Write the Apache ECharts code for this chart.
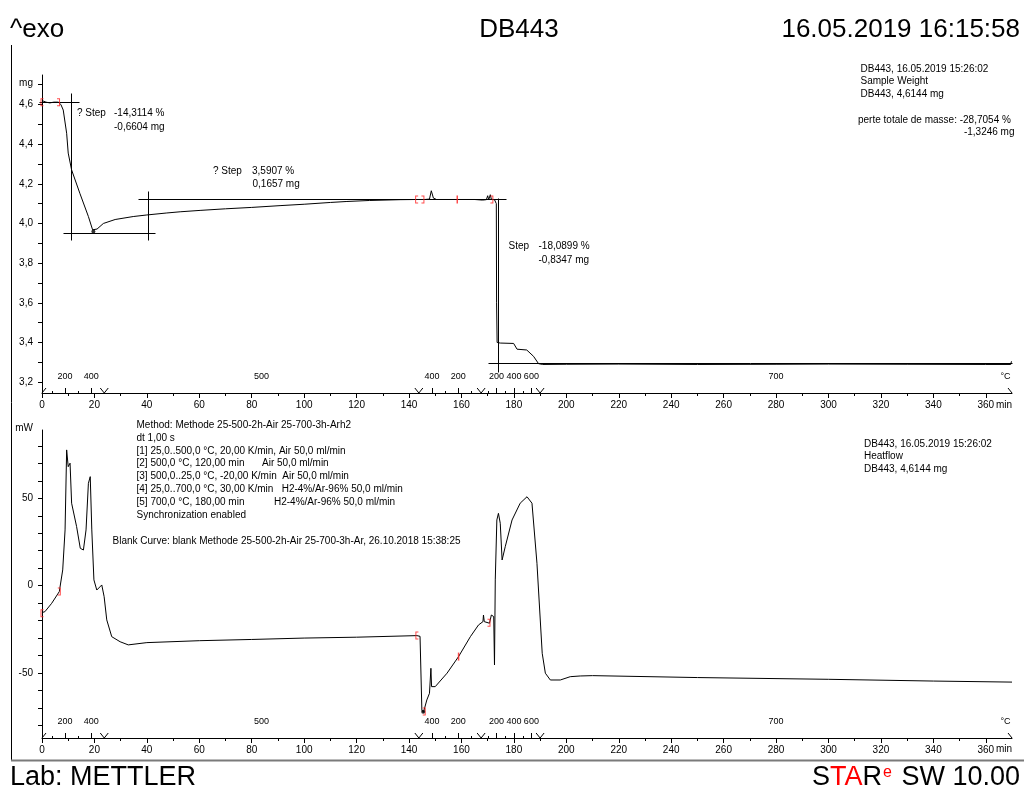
<!DOCTYPE html>
<html>
<head>
<meta charset="utf-8">
<script src="https://cdn.jsdelivr.net/npm/echarts@6/dist/echarts.min.js"></script>
<style>
  html, body { margin: 0; padding: 0; background: #fff; }
  #chart { width: 1024px; height: 789px; }
</style>
</head>
<body>
<div id="chart"></div>
<script>
// ---------------- TGA: sample mass (mg) versus time (min) ----------------
const tgaTime = [0, 0.5, 1.5, 3, 4.5, 6.2, 7.2, 8.1, 9.4, 10.0, 11.3, 14.5, 17.7, 19.3, 19.8, 21, 23.4, 27.9,
  34.8, 40, 47.6, 52.7, 60.3, 70, 80, 90.8, 100, 110, 116.3, 125, 136.6, 143, 146, 147.8, 148.5, 149.3, 150.5,
  155, 160, 165, 168, 169.5, 170.0, 170.4, 171.0, 171.4, 172.6, 173.3, 173.4, 173.6, 174.8, 179.9, 181.2,
  184.9, 187.5, 189.4, 191, 200, 220, 250, 280, 300, 330, 360, 369.5, 369.8];
const tgaMass = [4.620, 4.628, 4.612, 4.608, 4.612, 4.612, 4.600, 4.572, 4.455, 4.355, 4.270, 4.150, 4.035, 3.968,
  3.958, 3.972, 4.000, 4.020, 4.035, 4.043, 4.053, 4.059, 4.066, 4.074, 4.081, 4.090, 4.097, 4.106, 4.111,
  4.116, 4.120, 4.121, 4.121, 4.123, 4.165, 4.128, 4.121, 4.121, 4.121, 4.121, 4.118, 4.120, 4.140, 4.120,
  4.145, 4.122, 4.120, 4.100, 3.600, 3.400, 3.397, 3.395, 3.366, 3.362, 3.330, 3.293, 3.289, 3.290, 3.291,
  3.289, 3.290, 3.291, 3.290, 3.289, 3.289, 3.305];

// ---------------- DSC: heat flow (mW) versus time (min) ----------------
const hfTime = [0, 1.1, 3.7, 6.6, 7.9, 8.8, 9.4, 10.0, 10.7, 11.3, 13.2, 14.6, 15.8, 16.8, 17.7, 18.4, 19.0,
  19.8, 20.9, 22.8, 23.7, 24.7, 26.6, 29.8, 32.9, 40, 60, 80, 100, 120, 143, 144.2, 144.9, 145.5, 146.8,
  147.8, 148.2, 148.35, 148.6, 150, 154.5, 158.9, 163.4, 166.5, 168.2, 168.4, 168.7, 170.7, 171.4, 172.3,
  172.6, 172.9, 173.5, 174.1, 174.8, 175.5, 176.7, 179.3, 182.4, 185.0, 186.9, 188.8, 190.8, 192.0, 193.9,
  197.7, 201.5, 205.3, 210, 250, 300, 340, 370];
const hfPower = [-15.4, -14.9, -10.1, -3.4, 9.0, 31.9, 77.7, 68.1, 70.1, 47.2, 33.8, 21.4, 20.4, 31.9, 58.6,
  62.4, 31.9, 3.3, -2.5, 0.4, -6.3, -19.6, -29.2, -32.1, -33.9, -32.6, -31.5, -30.8, -30.0, -29.5, -28.6,
  -29.0, -71.2, -72.5, -65.4, -61.6, -61.0, -47.3, -57.8, -57.8, -50.1, -40.6, -29.2, -22.5, -20.6, -16.8,
  -20.6, -21.5, -16.8, -17.7, -45.4, 3.3, 37.6, 41.4, 35.7, 14.7, 22.3, 37.6, 47.2, 50.9, 47.2, 12.8, -38.7,
  -50.1, -54.0, -54.0, -52.1, -51.7, -51.5, -52.6, -53.6, -54.6, -55.2];

// ---------------- step evaluation construction lines: [t1, v1, t2, v2] ----------------
const stepLines = [
  [-1, 4.614, 14.1, 4.614],
  [11, 4.656, 11, 3.916],
  [8, 3.954, 43, 3.954],
  [36.8, 4.125, 177, 4.125],
  [40.5, 4.165, 40.5, 3.916],
  [173.9, 4.130, 173.9, 3.250],
  [170, 3.297, 370, 3.297]
];

// evaluation limits (red brackets) and curve markers
const limitsTga = [[0, 4.612, '['], [6.3, 4.612, ']'], [142.9, 4.121, '['], [145.3, 4.121, ']'], [158.4, 4.121, '|'], [171.6, 4.121, ']']];
const limitsHf = [[0, -15.8, '['], [6.6, -3.4, ']'], [143, -28.6, '['], [145.8, -72.0, ']'], [158.9, -40.6, '|'], [170.5, -21.3, ']']];
const dotsTga = [[19.6, 3.960]];
const dotsHf = [[145.4, -72.2]];

// ---------------- axes ----------------
const timeMax = 370;
const timeMajorTicks = [0, 20, 40, 60, 80, 100, 120, 140, 160, 180, 200, 220, 240, 260, 280, 300, 320, 340, 360];
const timeMinorTicks = [10, 30, 50, 70, 90, 110, 130, 150, 170, 190, 210, 230, 250, 270, 290, 310, 330, 350];
const massRange = [3.1451, 4.7488];
const massTicks = [3.2, 3.3, 3.4, 3.5, 3.6, 3.7, 3.8, 3.9, 4.0, 4.1, 4.2, 4.3, 4.4, 4.5, 4.6, 4.7];
const massLabels = [3.2, 3.4, 3.6, 3.8, 4.0, 4.2, 4.4, 4.6];
const powerRange = [-87.2, 89.1];
const powerTicks = [-80, -70, -60, -50, -40, -30, -20, -10, 0, 10, 20, 30, 40, 50, 60, 70, 80];
const powerLabels = [-50, 0, 50];

// temperature programme scale drawn along the time axis
const tempTickTime = [3.75, 8.75, 13.75, 18.75, 148.75, 153.75, 158.75, 163.75, 170, 173.33, 176.67, 180, 183.33, 186.67];
const tempTickMajor = [0, 1, 0, 1, 1, 0, 1, 0, 0, 1, 0, 1, 0, 1];
const tempLabelTime = [8.75, 18.75, 83.75, 148.75, 158.75, 173.33, 180, 186.67, 280, 367.5];
const tempLabelText = ['200', '400', '500', '400', '200', '200', '400', '600', '700', '°C'];
const segmentTime = [0, 23.75, 143.75, 167.5, 190, 370];

const FAMILY = '"Liberation Sans", Arial, sans-serif';
const SMALL = '10px ' + FAMILY;
const TEMP = '9px ' + FAMILY;
const BIG = '26px ' + FAMILY;
const FOOT = '27px ' + FAMILY;
const px = v => Math.round(v) + 0.5;

function commaNum(v) { return String(v).replace('.', ','); }

function xAxesFor(grid) {
  const common = { gridIndex: grid, type: 'value', min: 0, max: timeMax, position: 'bottom', splitLine: { show: false } };
  return [
    Object.assign({}, common, {
      axisLine: { show: true, onZero: false, lineStyle: { color: '#000', width: 1 } },
      axisTick: { show: true, customValues: timeMajorTicks, length: 5, lineStyle: { color: '#000' } },
      axisLabel: { show: true, customValues: timeMajorTicks, margin: 7, color: '#000', fontSize: 10, fontFamily: FAMILY }
    }),
    Object.assign({}, common, {
      axisLine: { show: false, onZero: false },
      axisTick: { show: true, customValues: timeMinorTicks, length: 3, lineStyle: { color: '#000' } },
      axisLabel: { show: false }
    })
  ];
}

function yAxisFor(grid, range, ticks, labels, fmt) {
  return {
    gridIndex: grid, type: 'value', min: range[0], max: range[1], position: 'left', splitLine: { show: false },
    axisLine: { show: true, onZero: false, lineStyle: { color: '#000', width: 1 } },
    axisTick: { show: true, customValues: ticks, length: 4, lineStyle: { color: '#000' } },
    axisLabel: { show: true, customValues: labels, margin: 9, color: '#000', fontSize: 10, fontFamily: FAMILY, formatter: fmt }
  };
}

function tempScale(xi, yi, base) {
  const line = (x1, y1, x2, y2) => ({ type: 'line', shape: { x1, y1, x2, y2 }, style: { stroke: '#000', lineWidth: 1 } });
  return [
    {
      type: 'custom', xAxisIndex: xi, yAxisIndex: yi, silent: true, clip: false,
      data: tempTickTime.map((t, i) => [t, tempTickMajor[i]]),
      renderItem(params, api) {
        const p = api.coord([api.value(0), base]);
        const len = api.value(1) ? 5 : 2;
        return line(px(p[0]), Math.round(p[1]), px(p[0]), Math.round(p[1]) - len);
      }
    },
    {
      type: 'custom', xAxisIndex: xi, yAxisIndex: yi, silent: true, clip: false,
      data: segmentTime.map((t, i) => [t, i === 0 ? 1 : (i === segmentTime.length - 1 ? -1 : 0)]),
      renderItem(params, api) {
        const p = api.coord([api.value(0), base]);
        const side = api.value(1);
        const x = p[0], y = Math.round(p[1]);
        const pts = [];
        if (side <= 0) pts.push([x - 4, y - 5]);
        pts.push([x, y]);
        if (side >= 0) pts.push([x + 4, y - 5]);
        return { type: 'polyline', shape: { points: pts }, style: { stroke: '#000', lineWidth: 1, fill: null } };
      }
    },
    {
      type: 'custom', xAxisIndex: xi, yAxisIndex: yi, silent: true, clip: false,
      data: tempLabelTime.map((t, i) => [t, i]),
      renderItem(params, api) {
        const p = api.coord([api.value(0), base]);
        return {
          type: 'text', x: p[0], y: p[1] - 16,
          style: { text: tempLabelText[api.value(1)], font: TEMP, fill: '#000', align: 'center', verticalAlign: 'middle', textAlign: 'center', textVerticalAlign: 'middle' }
        };
      }
    }
  ];
}

const bracketPaths = {
  '[': 'path://M0,0 L3,0 L3,1 L1,1 L1,7 L3,7 L3,8 L0,8 Z',
  ']': 'path://M0,0 L3,0 L3,8 L0,8 L0,7 L2,7 L2,1 L0,1 Z',
  '|': 'path://M0,0 L1,0 L1,8 L0,8 Z'
};

function limitSeries(xi, yi, list) {
  return {
    type: 'scatter', xAxisIndex: xi, yAxisIndex: yi, silent: true, z: 5,
    data: list.map(d => ({ value: [d[0], d[1]], symbol: bracketPaths[d[2]], symbolSize: d[2] === '|' ? [1.5, 8] : [3, 8] })),
    itemStyle: { color: '#ff2020' }
  };
}

function dotSeries(xi, yi, list) {
  return { type: 'scatter', xAxisIndex: xi, yAxisIndex: yi, silent: true, z: 6, data: list, symbol: 'circle', symbolSize: 4, itemStyle: { color: '#000' } };
}

function txt(x, y, text, align, font, color) {
  return {
    type: 'text', x: x, y: y, silent: true,
    style: { text: text, font: font || SMALL, fill: color || '#000', align: align || 'left', verticalAlign: 'middle', textAlign: align || 'left', textVerticalAlign: 'middle' }
  };
}

// method description: first column text, second column (gas) text and its x position
const methodLines = [
  'Method: Methode 25-500-2h-Air 25-700-3h-Arh2',
  'dt 1,00 s',
  '[1] 25,0..500,0 °C, 20,00 K/min, Air 50,0 ml/min',
  '[2] 500,0 °C, 120,00 min',
  '[3] 500,0..25,0 °C, -20,00 K/min  Air 50,0 ml/min',
  '[4] 25,0..700,0 °C, 30,00 K/min   H2-4%/Ar-96% 50,0 ml/min',
  '[5] 700,0 °C, 180,00 min',
  'Synchronization enabled'
];
const methodGas = [null, null, null, 'Air 50,0 ml/min', null, null, 'H2-4%/Ar-96% 50,0 ml/min', null];
const methodGasX = [0, 0, 0, 262, 0, 0, 274, 0];

const graphics = [
  { type: 'line', silent: true, shape: { x1: 11.5, y1: 45, x2: 11.5, y2: 760 }, style: { stroke: '#000', lineWidth: 1 } },
  { type: 'line', silent: true, shape: { x1: 11, y1: 760.5, x2: 1024, y2: 760.5 }, style: { stroke: '#7a7a7a', lineWidth: 2 } },
  txt(10, 30, '^exo', 'left', BIG),
  txt(519, 30, 'DB443', 'center', BIG),
  txt(1020, 30, '16.05.2019 16:15:58', 'right', BIG),
  txt(10, 778, 'Lab: METTLER', 'left', FOOT),
  {
    type: 'text', x: 1020, y: 778, silent: true,
    style: {
      text: '{k|S}{r|TA}{k|R}{e|e}{k| SW 10.00}', align: 'right', verticalAlign: 'middle', textAlign: 'right', textVerticalAlign: 'middle',
      rich: {
        k: { font: FOOT, fill: '#000', color: '#000' },
        r: { font: FOOT, fill: '#ff0000', color: '#ff0000' },
        e: { font: '16px ' + FAMILY, fill: '#ff0000', color: '#ff0000', verticalAlign: 'top', padding: [0, 2, 10, 1] }
      }
    }
  },
  // axis units
  txt(33, 83, 'mg', 'right'),
  txt(33, 428, 'mW', 'right'),
  txt(996, 405, 'min', 'left'),
  txt(996, 749, 'min', 'left'),
  // step results
  txt(77, 113, '? Step', 'left'), txt(114, 113, '-14,3114 %', 'left'), txt(114, 127.5, '-0,6604 mg', 'left'),
  txt(213, 171.5, '? Step', 'left'), txt(252, 171.5, '3,5907 %', 'left'), txt(252.5, 184.5, '0,1657 mg', 'left'),
  txt(508.5, 246, 'Step', 'left'), txt(538.5, 246, '-18,0899 %', 'left'), txt(538.5, 260, '-0,8347 mg', 'left'),
  // curve info, TGA
  txt(860.5, 69, 'DB443, 16.05.2019 15:26:02', 'left'),
  txt(860.5, 81.5, 'Sample Weight', 'left'),
  txt(860.5, 94, 'DB443, 4,6144 mg', 'left'),
  txt(858, 120, 'perte totale de masse: -28,7054 %', 'left'),
  txt(1014.5, 132.5, '-1,3246 mg', 'right'),
  // curve info, DSC
  txt(864, 444, 'DB443, 16.05.2019 15:26:02', 'left'),
  txt(864, 456.5, 'Heatflow', 'left'),
  txt(864, 469, 'DB443, 4,6144 mg', 'left'),
  txt(112.5, 541, 'Blank Curve: blank Methode 25-500-2h-Air 25-700-3h-Ar, 26.10.2018 15:38:25', 'left')
];
methodLines.forEach((s, i) => {
  graphics.push(txt(136.5, 425 + i * 12.9, s, 'left'));
  if (methodGas[i]) graphics.push(txt(methodGasX[i], 425 + i * 12.9, methodGas[i], 'left'));
});

const chart = echarts.init(document.getElementById('chart'), null, { renderer: 'canvas' });
chart.setOption({
  backgroundColor: '#fff',
  animation: false,
  textStyle: { fontFamily: FAMILY },
  grid: [
    { left: 42, top: 75, width: 970, height: 318, outerBoundsMode: 'none', containLabel: false },
    { left: 42, top: 430, width: 970, height: 308, outerBoundsMode: 'none', containLabel: false }
  ],
  xAxis: [].concat(xAxesFor(0), xAxesFor(1)),
  yAxis: [
    yAxisFor(0, massRange, massTicks, massLabels, v => commaNum(v.toFixed(1))),
    yAxisFor(1, powerRange, powerTicks, powerLabels, v => String(Math.round(v)))
  ],
  graphic: { elements: graphics },
  series: [
    {
      name: 'Sample Weight', type: 'line', xAxisIndex: 0, yAxisIndex: 0, showSymbol: false, symbol: 'none', silent: true, z: 4,
      data: tgaTime.map((t, i) => [t, tgaMass[i]]),
      lineStyle: { color: '#000', width: 1 }
    },
    {
      name: 'Heatflow', type: 'line', xAxisIndex: 2, yAxisIndex: 1, showSymbol: false, symbol: 'none', silent: true, z: 4,
      data: hfTime.map((t, i) => [t, hfPower[i]]),
      lineStyle: { color: '#000', width: 1 }
    },
    {
      type: 'custom', xAxisIndex: 0, yAxisIndex: 0, silent: true, clip: false, z: 3,
      data: stepLines,
      renderItem(params, api) {
        const a = api.coord([api.value(0), api.value(1)]);
        const b = api.coord([api.value(2), api.value(3)]);
        return { type: 'line', shape: { x1: px(a[0]), y1: px(a[1]), x2: px(b[0]), y2: px(b[1]) }, style: { stroke: '#000', lineWidth: 1 } };
      }
    },
    limitSeries(0, 0, limitsTga),
    limitSeries(2, 1, limitsHf),
    dotSeries(0, 0, dotsTga),
    dotSeries(2, 1, dotsHf)
  ].concat(tempScale(0, 0, massRange[0]), tempScale(2, 1, powerRange[0]))
});
</script>
</body>
</html>
